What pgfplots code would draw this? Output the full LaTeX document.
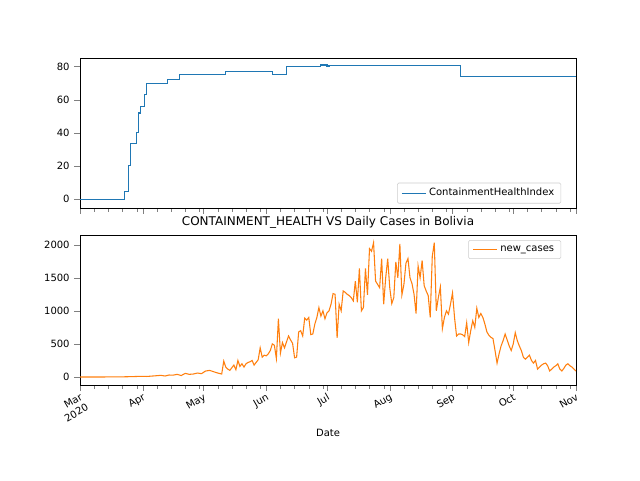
\documentclass[border=0pt]{standalone}
\usepackage{pgfplots}
\pgfplotsset{compat=1.18}
\usepackage{fontspec}
\setmainfont{DejaVu Sans}
\definecolor{c0}{HTML}{1F77B4}
\definecolor{c1}{HTML}{FF7F0E}
\begin{document}
\begin{tikzpicture}
\path (0pt,0pt) rectangle (480pt,360pt);
\pgfplotsset{myax/.style={scale only axis,width=372pt,height=112pt,
 xmin=0,xmax=245,xtick={0,31,61,92,122,153,184,214,245},
 minor xtick={7,14,21,28,38,45,52,59,68,75,82,89,99,106,113,120,129,136,143,150,160,167,174,181,191,198,205,212,221,228,235,242},
 tick align=outside,tick pos=left,font=\fontsize{7.5}{9}\selectfont,
 /pgf/number format/assume math mode=true,/pgf/number format/1000 sep={},
 legend image code/.code={\draw[##1] (0pt,0pt)--(18pt,0pt);},
 legend cell align=left,legend style={font=\fontsize{7.5}{9}\selectfont,draw=black!20,rounded corners=1pt}}}
\begin{axis}[myax,at={(60pt,204pt)},anchor=south west,ymin=-5.4,ymax=84.8,ytick={0,20,40,60,80},xticklabels={},
 legend pos=south east]
\addplot[c0,thick,const plot] coordinates {(0,0)(21,0)(22,4.5)(23,4.5)(24,20)(25,33.6)(27,33.6)(28,40)(29,52)(30,56)(31,56)(32,63)(33,70)(42,70)(43,72)(48,72)(49,75)(71,75)(72,77)(94,77)(95,75)(101,75)(102,80)(118,80)(119,81)(121,81)(122,80)(123,80.5)(187,80.5)(188,74)(245,74)};
\addlegendentry{ContainmentHealthIndex}
\end{axis}
\begin{axis}[myax,at={(60pt,71.25pt)},anchor=south west,ymin=-121,ymax=2136,ytick={0,500,1000,1500,2000},
 xticklabels={{Mar\\2020},Apr,May,Jun,Jul,Aug,Sep,Oct,Nov},xticklabel style={rotate=30,anchor=north east,align=right,inner sep=1pt},
 title={\fontsize{9}{11}\selectfont CONTAINMENT\_HEALTH VS Daily Cases in Bolivia},title style={yshift=-4pt},
 xlabel={Date},legend pos=north east]
\addplot[c1,thick] coordinates {(0,0)(10,0)(20,2)(25,5)(30,10)(33,8)(36,15)(38,20)(40,25)(42,15)(44,30)(46,28)(48,40)(50,22)(52,55)(54,40)(56,45)(58,60)(60,50)(62,90)(64,100)(66,80)(68,60)(70,45)(71,240)(72,150)(73,120)(74,100)(76,180)(77,110)(78,250)(79,160)(80,200)(81,150)(82,200)(83,220)(84,230)(85,250)(86,180)(87,220)(88,260)(89,440)(90,300)(91,330)(92,320)(93,350)(94,400)(95,500)(96,480)(97,280)(98,880)(99,360)(100,520)(101,440)(102,530)(103,620)(104,560)(105,510)(106,290)(107,300)(108,680)(109,700)(110,620)(111,890)(112,860)(113,900)(114,640)(115,650)(116,800)(117,900)(118,1050)(119,920)(120,1000)(121,880)(122,970)(123,1000)(124,1100)(125,1260)(126,1250)(127,590)(128,1100)(129,1000)(130,1300)(131,1280)(132,1250)(133,1230)(134,1200)(135,1150)(136,1450)(137,1130)(138,1640)(139,1000)(140,1050)(141,1640)(142,1240)(143,1940)(144,1900)(145,2030)(146,1450)(147,1400)(148,1350)(149,1790)(150,1100)(151,1500)(152,1790)(153,1350)(154,1110)(155,1200)(156,1740)(157,1500)(158,2010)(159,1240)(160,1400)(161,1720)(162,1790)(163,1500)(164,1410)(165,1250)(166,960)(167,1680)(168,1500)(169,1760)(170,1380)(171,1300)(172,1230)(173,900)(174,1820)(175,2030)(176,1000)(177,1200)(178,1360)(179,730)(180,900)(181,1000)(182,950)(183,1100)(184,1270)(185,900)(186,620)(187,650)(188,650)(189,640)(190,610)(191,820)(192,520)(193,700)(194,850)(195,750)(196,1040)(197,900)(198,960)(199,900)(200,800)(201,680)(202,630)(203,600)(204,580)(205,400)(206,210)(207,350)(208,470)(209,550)(210,650)(211,560)(212,470)(213,400)(214,500)(215,670)(216,550)(217,470)(218,400)(219,300)(220,270)(221,300)(222,330)(223,250)(224,210)(225,250)(226,120)(227,150)(228,180)(229,200)(230,210)(231,170)(232,90)(233,120)(234,150)(235,170)(236,200)(237,120)(238,90)(239,130)(240,180)(241,200)(242,170)(243,150)(244,120)(245,90)};
\addlegendentry{new\_cases}
\end{axis}
\end{tikzpicture}
\end{document}
